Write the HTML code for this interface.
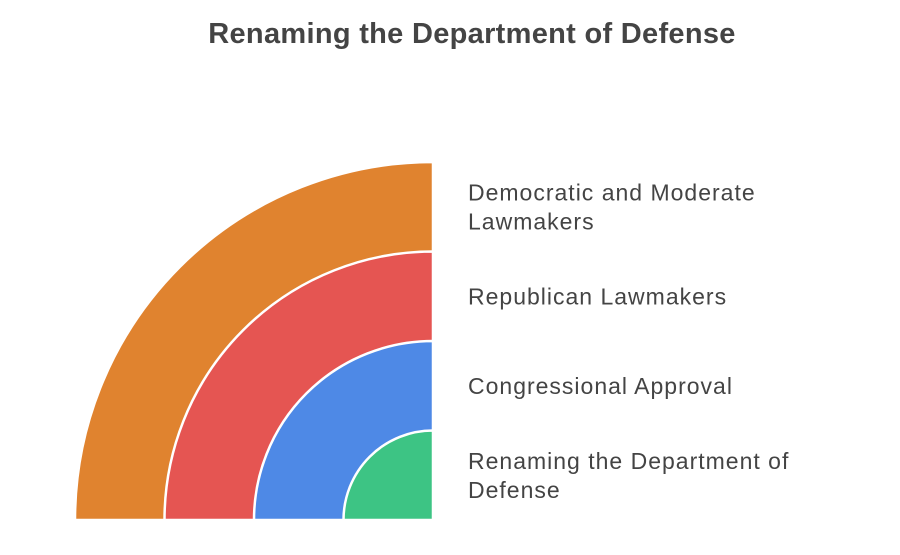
<!DOCTYPE html>
<html><head><meta charset="utf-8"><style>
html,body{margin:0;padding:0;background:#fff;}
svg text{font-family:"Liberation Sans",sans-serif;}
</style></head><body>
<svg width="900" height="550" viewBox="0 0 900 550" xmlns="http://www.w3.org/2000/svg">
<text x="472" y="43" text-anchor="middle" font-size="29" letter-spacing="0.3" font-weight="bold" fill="#444">Renaming the Department of Defense</text>
<g id="rings"></g>
<g id="labels"></g>
</svg>
<script>
const categories = ["Renaming the Department of Defense","Congressional Approval","Republican Lawmakers","Democratic and Moderate Lawmakers"];
const ringWidths = [1,1,1,1];
const colors = ["#3DC484","#4E89E6","#E55552","#E0832F"];
const labelLines = [["Renaming the Department of","Defense"],["Congressional Approval"],["Republican Lawmakers"],["Democratic and Moderate","Lawmakers"]];

const cx = 433, cy = 520, unit = 89.5;
const ns = "http://www.w3.org/2000/svg";
const rings = document.getElementById('rings');
const labels = document.getElementById('labels');
let cum = [];
let s = 0;
ringWidths.forEach(w => { s += w; cum.push(s); });
function rScale(v){ return v*unit; }
for (let i = categories.length-1; i >= 0; i--) {
  const r = rScale(cum[i]);
  const p = document.createElementNS(ns,'path');
  p.setAttribute('d', `M${cx},${cy} L${cx-r},${cy} A${r},${r} 0 0 1 ${cx},${cy-r} Z`);
  p.setAttribute('fill', colors[i]);
  p.setAttribute('stroke', '#fff');
  p.setAttribute('stroke-width', '2.5');
  
  
  rings.appendChild(p);
}
categories.forEach((c, i) => {
  const rOut = rScale(cum[i]);
  const rIn = i === 0 ? 0 : rScale(cum[i-1]);
  const mid = cy - (rOut + rIn) / 2;
  const lines = labelLines[i];
  const lh = 29;
  const start = mid - (lines.length - 1) * lh / 2 + 8;
  const t = document.createElementNS(ns,'text');
  t.setAttribute('x', 468);
  t.setAttribute('font-size', '23');
  t.setAttribute('letter-spacing', '1');
  t.setAttribute('fill', '#444');
  
  
  lines.forEach((ln, j) => {
    const ts = document.createElementNS(ns,'tspan');
    ts.setAttribute('x', 468);
    ts.setAttribute('y', start + j*lh);
    ts.textContent = ln;
    t.appendChild(ts);
  });
  labels.appendChild(t);
});
</script>
</body></html>
